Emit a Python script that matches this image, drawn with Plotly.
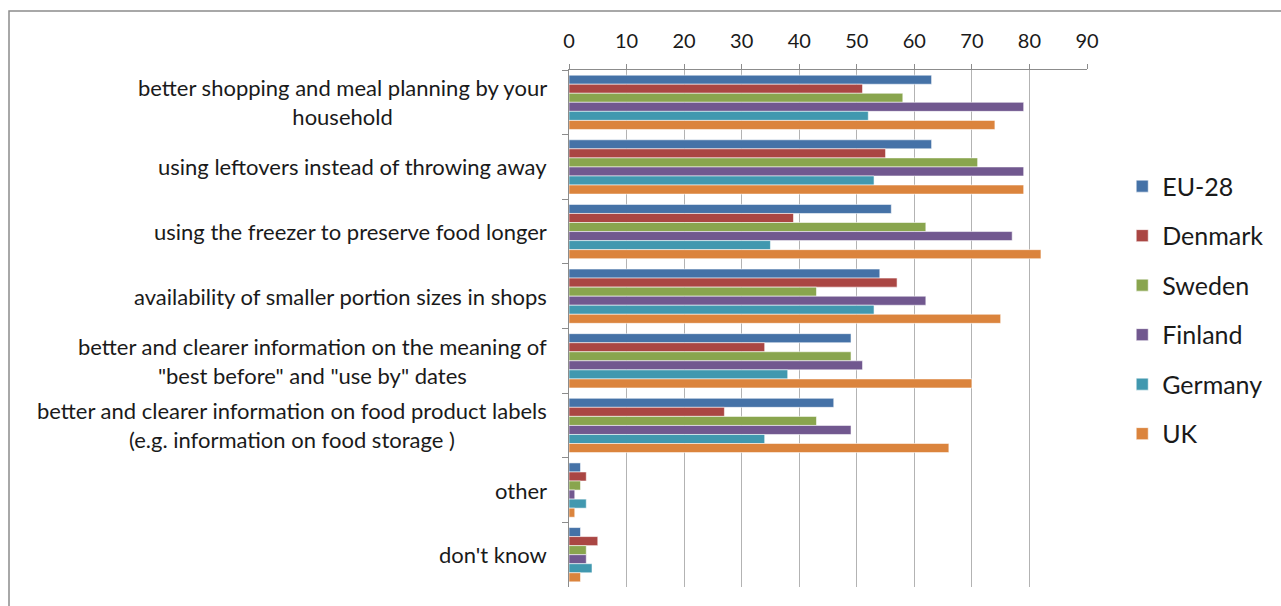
import plotly.graph_objects as go

categories = [
    "better shopping and meal planning by your<br>household",
    "using leftovers instead of throwing away",
    "using the freezer to preserve food longer",
    "availability of smaller portion sizes in shops",
    "better and clearer information on the meaning of<br>\"best before\" and \"use by\" dates",
    "better and clearer information on food product labels<br>(e.g. information on food storage )",
    "other",
    "don't know",
]
series_names = ["EU-28", "Denmark", "Sweden", "Finland", "Germany", "UK"]
eu28 = [63, 63, 56, 54, 49, 46, 2, 2]
denmark = [51, 55, 39, 57, 34, 27, 3, 5]
sweden = [58, 71, 62, 43, 49, 43, 2, 3]
finland = [79, 79, 77, 62, 51, 49, 1, 3]
germany = [52, 53, 35, 53, 38, 34, 3, 4]
uk = [74, 79, 82, 75, 70, 66, 1, 2]
tick_values = [0, 10, 20, 30, 40, 50, 60, 70, 80, 90]

values = [eu28, denmark, sweden, finland, germany, uk]
colors = ["#4572A7", "#AA4643", "#89A54E", "#71588F", "#4198AF", "#DB843D"]

FONT = "Lato, 'DejaVu Sans', sans-serif"

fig = go.Figure()
for i, (name, vals, col) in enumerate(zip(series_names, values, colors)):
    fig.add_trace(go.Bar(
        y=categories, x=vals, name=name, orientation="h",
        marker=dict(color=col, line=dict(color="rgba(255,255,255,0.55)", width=1)),
        legendgroup=name,
    ))

for c in categories:
    fig.add_annotation(
        x=0, xref="paper", y=c, yref="y", text=c, showarrow=False,
        xanchor="right", yanchor="middle", align="center", xshift=-20,
        font=dict(family=FONT, size=22, color="#1a1a1a"),
    )

fig.update_layout(
    width=1281, height=606,
    margin=dict(l=569, r=194, t=70, b=19),
    paper_bgcolor="white", plot_bgcolor="white",
    barmode="group", bargap=0.16, bargroupgap=0,
    font=dict(family=FONT, size=20, color="#1a1a1a"),
    legend=dict(
        x=1.068, xanchor="left", y=0.536, yanchor="middle",
        font=dict(family=FONT, size=25, color="#1a1a1a"),
        traceorder="grouped", tracegroupgap=14,
        itemwidth=30,
    ),
    xaxis=dict(
        side="top", range=[0, 90], tickvals=tick_values,
        showgrid=True, gridcolor="#b3b3b3", gridwidth=1,
        showline=True, linecolor="#8c8c8c", linewidth=1,
        ticks="outside", ticklen=5, tickcolor="#8c8c8c",
        ticklabelstandoff=8,
        tickfont=dict(family=FONT, size=20, color="#1a1a1a"),
        zeroline=False, mirror=False,
    ),
    yaxis=dict(
        autorange="reversed", showticklabels=False,
        showline=True, linecolor="#8c8c8c", linewidth=1,
        ticks="outside", ticklen=6, tickcolor="#8c8c8c",
        tickson="boundaries", showgrid=False,
    ),
    shapes=[dict(
        type="rect", xref="paper", yref="paper",
        x0=-569/518 + 9/518, x1=(1281 - 569 + 20)/518,
        y0=-30/517, y1=1 + 59/517,
        line=dict(color="#8c8c8c", width=1.5), fillcolor="rgba(0,0,0,0)", layer="below",
    )],
)

fig.write_html("out.html")
